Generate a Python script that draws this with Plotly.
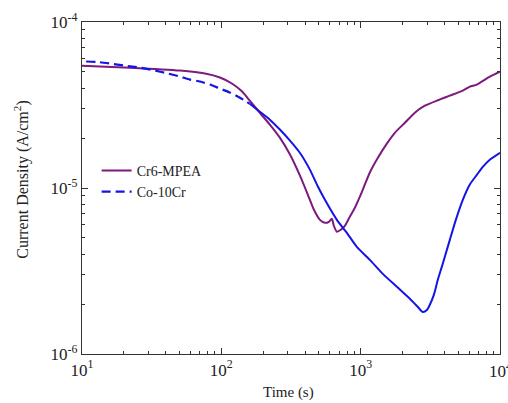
import plotly.graph_objects as go

# Time (s) and current density (A/cm^2)
cr6_time = [10, 22.1, 50.5, 76.3, 97.7, 119, 141, 160, 189, 223, 263, 311, 366, 418, 462, 510,
            554, 592, 621, 642, 675, 721, 770, 836, 909, 987, 1072, 1164, 1329, 1541, 1759,
            2075, 2448, 2887, 3521, 4364, 5409, 6073, 6818, 8450, 10000]
cr6_j = [5.46e-5, 5.31e-5, 5.10e-5, 4.89e-5, 4.63e-5, 4.26e-5, 3.81e-5, 3.36e-5, 2.84e-5,
         2.41e-5, 2.01e-5, 1.59e-5, 1.19e-5, 9.10e-6, 7.39e-6, 6.43e-6, 6.17e-6, 6.26e-6,
         6.52e-6, 5.92e-6, 5.45e-6, 5.60e-6, 5.92e-6, 6.71e-6, 7.60e-6, 8.86e-6, 1.05e-5,
         1.24e-5, 1.52e-5, 1.85e-5, 2.15e-5, 2.47e-5, 2.84e-5, 3.13e-5, 3.36e-5, 3.60e-5,
         3.86e-5, 4.08e-5, 4.20e-5, 4.69e-5, 5.03e-5]

co_time_early = [10.7, 13.0, 15.9, 20.3, 26.1, 33.4, 41.4, 50.5, 59.5, 70.2, 82.8, 97.7, 115,
                 136, 160]
co_j_early = [5.78e-5, 5.74e-5, 5.62e-5, 5.46e-5, 5.31e-5, 5.10e-5, 4.89e-5, 4.69e-5, 4.50e-5,
              4.38e-5, 4.20e-5, 3.97e-5, 3.76e-5, 3.50e-5, 3.22e-5]
co_time_late = [160, 189, 223, 263, 311, 366, 432, 493, 554, 675, 796, 939, 1164, 1443, 1818,
                2254, 2572, 2794, 2985, 3137, 3351, 3579, 3823, 4018, 4364, 4819, 5409, 6073,
                6818, 7526, 8450, 10000]
co_j_late = [3.22e-5, 2.88e-5, 2.58e-5, 2.25e-5, 1.93e-5, 1.63e-5, 1.29e-5, 1.02e-5, 8.49e-6,
             6.43e-6, 5.37e-6, 4.42e-6, 3.69e-6, 3.04e-6, 2.54e-6, 2.15e-6, 1.92e-6, 1.79e-6,
             1.84e-6, 1.98e-6, 2.27e-6, 2.80e-6, 3.35e-6, 3.85e-6, 4.87e-6, 6.43e-6, 8.49e-6,
             1.05e-5, 1.20e-5, 1.34e-5, 1.48e-5, 1.63e-5]

x_tickvals = [10, 100, 1000]
x_ticktext = ["10<sup>1</sup>", "10<sup>2</sup>", "10<sup>3</sup>"]
x_last_tick = 10000
x_last_text = "10<sup>4</sup>"
y_tickvals = [1e-6, 1e-5, 1e-4]
y_ticktext = ["10<sup>-6</sup>", "10<sup>-5</sup>", "10<sup>-4</sup>"]
minor_mult = [2, 3, 4, 5, 6, 7, 8, 9]
x_minor = [m * d for d in (10, 100, 1000) for m in minor_mult]
y_minor = [m * d for d in (1e-6, 1e-5) for m in minor_mult]

x_title = "Time (s)"
y_title = "Current Density (A/cm<sup>2</sup>)"

PURPLE = "#7d1a7d"
BLUE = "#1414e6"
FONT = "Liberation Serif"
INK = "#222"
AX = "#333"

fig = go.Figure()
fig.add_trace(go.Scatter(x=cr6_time, y=cr6_j, mode="lines", name="Cr6-MPEA",
                         line=dict(color=PURPLE, width=2, shape="spline", smoothing=0.6)))
fig.add_trace(go.Scatter(x=co_time_early, y=co_j_early, mode="lines", name="Co-10Cr",
                         line=dict(color=BLUE, width=2.2, dash="9px,5px", shape="spline",
                                   smoothing=0.6)))
fig.add_trace(go.Scatter(x=co_time_late, y=co_j_late, mode="lines", name="Co-10Cr",
                         showlegend=False,
                         line=dict(color=BLUE, width=2, shape="spline", smoothing=0.6)))

major = dict(
    type="log", showgrid=False, zeroline=False, showline=True, linecolor=AX,
    linewidth=1.2, mirror="ticks", ticks="inside", ticklen=6, tickcolor=AX, tickwidth=1.2,
    tickfont=dict(family=FONT, size=17, color=INK), automargin=False,
)
minor_ax = dict(
    type="log", showgrid=False, zeroline=False, showline=False, mirror="ticks",
    ticks="inside", ticklen=3, tickcolor=AX, tickwidth=1, showticklabels=False,
    automargin=False,
)
fig.update_layout(
    xaxis=dict(range=[1, 4], tickmode="array", tickvals=x_tickvals + [x_last_tick],
               ticktext=x_ticktext + [""], **major),
    yaxis=dict(range=[-6, -4], tickmode="array", tickvals=y_tickvals, ticktext=y_ticktext,
               **major),
    xaxis2=dict(range=[1, 4], overlaying="x", tickmode="array", tickvals=x_minor,
                anchor="y", **minor_ax),
    yaxis2=dict(range=[-6, -4], overlaying="y", tickmode="array", tickvals=y_minor,
                anchor="x", **minor_ax),
)
# invisible trace so the minor-tick axes get drawn
fig.add_trace(go.Scatter(x=[10], y=[1e-6], xaxis="x2", yaxis="y2", mode="markers",
                         marker=dict(opacity=0), showlegend=False, hoverinfo="skip"))

fig.update_layout(
    width=508, height=403,
    margin=dict(l=82, r=8, t=22, b=49),
    paper_bgcolor="white", plot_bgcolor="white",
    legend=dict(x=0.035, y=0.60, xanchor="left", yanchor="top",
                bgcolor="rgba(0,0,0,0)", font=dict(family=FONT, size=14, color=INK),
                tracegroupgap=0, itemwidth=30),
    annotations=[
        dict(text=x_title, xref="paper", yref="paper", x=0.493, y=-0.115,
             xanchor="center", yanchor="middle", showarrow=False,
             font=dict(family=FONT, size=15, color=INK)),
        dict(text=y_title, xref="paper", yref="paper", x=-0.1435, y=0.525,
             xanchor="center", yanchor="middle", showarrow=False, textangle=-90,
             font=dict(family=FONT, size=16, color=INK)),
        dict(text=x_last_text, x=4, xref="x", y=0, yref="paper", yshift=-3,
             xanchor="center", yanchor="top", showarrow=False,
             font=dict(family=FONT, size=17, color=INK)),
    ],
)

fig.write_html("out.html", config={"displayModeBar": False},
               post_script="document.body.style.margin='0';"
                           "document.body.style.overflow='hidden';")
